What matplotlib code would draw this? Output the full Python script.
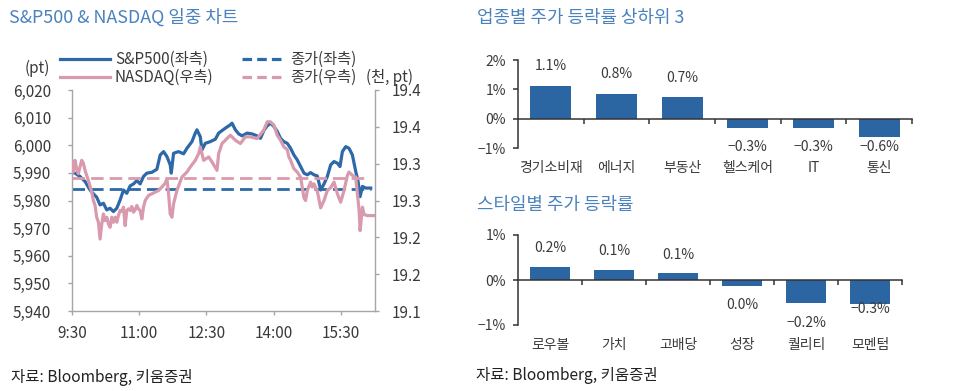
import matplotlib
matplotlib.use('Agg')
import matplotlib.pyplot as plt
from matplotlib.lines import Line2D

plt.rcParams['font.family'] = ['Noto Sans CJK KR', 'DejaVu Sans']

# ---------------- data ----------------
# minutes after 9:30
sp_time = [0, 4, 10.7, 17.5, 24.2, 28.7, 33.1, 37.6, 42.1, 46.6, 51, 55.5, 60, 64.5, 69, 73.4,
           77.9, 82.4, 86.9, 91.3, 95.8, 100.3, 107, 113.7, 118.2, 122.7, 127.2, 131.6, 133,
           136.1, 142.8, 149.5, 154, 160.7, 165.2, 167.4, 171.9, 174.1, 178.6, 185.3, 192.1,
           196.5, 201, 205.5, 212.2, 214.4, 218.9, 223.4, 227.9, 234.6, 241.3, 248, 252.5, 257,
           261.5, 266, 270.5, 275, 279.4, 283.9, 288.4, 292.9, 297.3, 301.8, 306.3, 310.8,
           315.3, 319.7, 324.2, 328.7, 333.2, 337.7, 342.1, 346.6, 351.1, 355.6, 359.1, 362.3,
           366.8, 371.2, 375.7, 380.2, 383.3, 386, 389.2, 393.6, 400.3]
sp_value = [5990.2, 5989.9, 5988.7, 5986.9, 5983.8, 5982.4, 5981.2, 5978.4, 5979.0, 5976.6,
            5977.2, 5976.0, 5977.2, 5980.2, 5983.8, 5982.6, 5985.3, 5986.0, 5987.2, 5986.0,
            5988.7, 5989.9, 5990.2, 5991.3, 5996.5, 5997.7, 5995.9, 5992.9, 5989.9, 5997.1,
            5997.7, 5996.9, 5998.9, 6001.3, 6004.4, 6005.6, 6003.1, 5998.3, 6000.7, 6001.3,
            6002.2, 6004.4, 6005.3, 6006.2, 6007.4, 6008.0, 6005.6, 6004.1, 6003.4, 6004.4,
            6004.1, 6003.4, 6002.5, 6005.3, 6007.0, 6008.0, 6006.8, 6005.0, 6002.5, 6001.3,
            6000.7, 5998.9, 5996.5, 5994.7, 5992.3, 5989.9, 5989.3, 5990.1, 5989.3, 5988.9,
            5983.8, 5986.0, 5988.7, 5992.9, 5994.1, 5993.5, 5992.3, 5997.7, 5999.5, 5998.9,
            5996.5, 5990.5, 5986.9, 5981.4, 5985.1, 5984.5, 5984.5]

nq_time = [0, 1.8, 4, 6.3, 8.5, 10.7, 13, 15.2, 17.5, 19.7, 21.9, 24.2, 26.4, 28.7, 30.9, 33.1,
           35.4, 37.6, 39.9, 42.1, 44.3, 46.6, 48.8, 51, 53.3, 55.5, 57.8, 60, 62.2, 64.5, 66.7,
           69, 71.2, 73.4, 75.7, 77.9, 80.1, 82.4, 84.6, 86.9, 89.1, 91.3, 93.6, 95.8, 98.1,
           102.5, 107, 111.5, 116, 120.4, 124.9, 127.2, 129.4, 131.6, 133.9, 136.1, 140.6,
           147.3, 154, 158.5, 165.2, 169.7, 171.9, 176.4, 183.1, 187.6, 194.3, 196.5, 201,
           207.7, 212.2, 218.9, 225.6, 232.4, 239.1, 248, 257, 261.5, 266, 270.5, 275, 279.4,
           283.9, 288.4, 290.6, 292.9, 297.3, 301.8, 306.3, 308.5, 310.8, 313, 315.3, 319.7,
           322, 324.2, 328.7, 333.2, 337.7, 342.1, 346.6, 351.1, 355.6, 360, 364.5, 369, 371.2,
           375.7, 380.2, 382.4, 384.7, 386, 389.2, 391.4, 395.9, 407]
nq_value = [19302.3, 19288.6, 19304.5, 19293.2, 19286.4, 19295.5, 19304.5, 19300.9, 19290.9,
            19284.1, 19277.3, 19269.1, 19261.4, 19250.0, 19243.2, 19227.3, 19220.5, 19197.7,
            19218.2, 19231.8, 19222.7, 19227.3, 19218.2, 19213.6, 19227.3, 19220.5, 19227.3,
            19220.5, 19229.5, 19236.4, 19235.5, 19240.9, 19215.9, 19236.4, 19238.6, 19236.4,
            19241.8, 19234.1, 19237.3, 19243.2, 19238.6, 19236.4, 19225.0, 19240.9, 19250.0,
            19256.8, 19259.1, 19261.4, 19263.6, 19268.2, 19273.6, 19279.5, 19259.1, 19231.8,
            19227.3, 19245.5, 19263.6, 19281.8, 19288.6, 19295.5, 19304.5, 19313.6, 19322.7,
            19304.5, 19309.1, 19302.3, 19290.9, 19313.6, 19327.3, 19334.1, 19338.6, 19331.8,
            19327.3, 19336.4, 19336.4, 19334.1, 19345.5, 19356.8, 19356.8, 19352.3, 19338.6,
            19331.8, 19322.7, 19319.1, 19309.1, 19304.5, 19293.2, 19288.6, 19281.8, 19268.2,
            19253.6, 19250.0, 19263.6, 19275.0, 19268.2, 19272.7, 19262.7, 19240.0, 19250.0,
            19263.6, 19267.3, 19275.0, 19259.1, 19247.7, 19263.6, 19284.1, 19288.6, 19284.1,
            19281.8, 19259.1, 19236.4, 19209.1, 19240.9, 19230.9, 19229.5, 19229.5]

sp_prev_close = 5984.2
nq_prev_close = 19280.5

time_ticks = [0, 90, 180, 270, 360]
time_labels = ['9:30', '11:00', '12:30', '14:00', '15:30']
left_ticks = [5940, 5950, 5960, 5970, 5980, 5990, 6000, 6010, 6020]
right_ticks = [19.10, 19.15, 19.20, 19.25, 19.30, 19.35, 19.40]
right_tick_labels = ['19.1', '19.2', '19.2', '19.3', '19.3', '19.4', '19.4']

sector_names = ['경기소비재', '에너지', '부동산', '헬스케어', 'IT', '통신']
sector_values = [1.13, 0.83, 0.73, -0.33, -0.33, -0.63]
sector_labels = ['1.1%', '0.8%', '0.7%', '\u22120.3%', '\u22120.3%', '\u22120.6%']

style_names = ['로우볼', '가치', '고배당', '성장', '퀄리티', '모멘텀']
style_values = [0.30, 0.22, 0.15, -0.13, -0.50, -0.53]
style_labels = ['0.2%', '0.1%', '0.1%', '0.0%', '\u22120.2%', '\u22120.3%']

# ---------------- style ----------------
BLUE = '#2d69a8'
PINK = '#d99aae'
BAR = '#2b66a3'
TITLE = '#4a82bd'
TXT = '#3a3a3a'
GRAY = '#a6a6a6'
W, H = 960, 391
FS = 11
TFS = 12.9

fig = plt.figure(figsize=(9.6, 3.91), dpi=100)

def fx(px):
    return px / W

def fy(py):
    return 1 - py / H

# ---------------- left: line chart ----------------
ax = fig.add_axes([fx(72), fy(311), fx(375) - fx(72), fy(90) - fy(311)])
ax2 = ax.twinx()

ax.hlines(sp_prev_close, 0, 400, colors=BLUE, linestyles=(0, (4.5, 2.2)), lw=2.0)
ax.plot(sp_time, sp_value, color=BLUE, lw=2.3, solid_joinstyle='round')
ax2.hlines(nq_prev_close / 1000, 0, 398, colors=PINK, linestyles=(0, (4.5, 2.2)), lw=2.0)
ax2.plot(nq_time, [v / 1000 for v in nq_value], color=PINK, lw=2.3, solid_joinstyle='round')

ax.set_xlim(0, 406)
ax.set_ylim(5940, 6020)
ax2.set_ylim(19.1, 19.4)
ax.set_xticks(time_ticks)
ax.set_xticklabels(time_labels)
ax.set_yticks(left_ticks)
ax.set_yticklabels([f'{v:,}' for v in left_ticks])
ax2.set_yticks(right_ticks)
ax2.set_yticklabels(right_tick_labels)

for a in (ax, ax2):
    for s in a.spines.values():
        s.set_color(GRAY)
        s.set_linewidth(1.0)
    a.spines['top'].set_visible(False)
ax.spines['right'].set_visible(False)
ax2.spines['left'].set_visible(False)
ax2.spines['bottom'].set_visible(False)
ax.tick_params(axis='y', direction='out', length=3, width=1, color=GRAY, pad=12,
               labelsize=FS, labelcolor=TXT)
ax.tick_params(axis='x', direction='out', length=3, width=1, color=GRAY, pad=7,
               labelsize=FS, labelcolor=TXT)
ax2.tick_params(axis='y', direction='out', length=3, width=1, color=GRAY, pad=9,
                labelsize=FS, labelcolor=TXT)

fig.text(fx(9), fy(18), 'S&P500 & NASDAQ 일중 차트', color=TITLE, fontsize=TFS,
         ha='left', va='center')
fig.text(fx(37), fy(68), '(pt)', color=TXT, fontsize=FS, ha='center', va='center')
fig.text(fx(366), fy(77), '(천, pt)', color=TXT, fontsize=FS, ha='left', va='center')

# legend (manual)
leg_items = [
    (60, 110, 59, BLUE, '-', 'S&P500(좌측)'),
    (60, 110, 77, PINK, '-', 'NASDAQ(우측)'),
    (242, 285, 59, BLUE, '--', '종가(좌측)'),
    (242, 285, 77, PINK, '--', '종가(우측)'),
]
for x0, x1, yy, col, ls, lab in leg_items:
    ln = Line2D([fx(x0), fx(x1)], [fy(yy), fy(yy)], transform=fig.transFigure,
                color=col, lw=2.3)
    if ls == '--':
        ln.set_dashes((3.0, 1.6))
    fig.add_artist(ln)
    fig.text(fx(x1 + 5), fy(yy), lab, color=TXT, fontsize=FS, ha='left', va='center')

fig.text(fx(11), fy(377), '자료: Bloomberg, 키움증권', color='#222222', fontsize=11.2,
         ha='left', va='center')
fig.text(fx(476), fy(376), '자료: Bloomberg, 키움증권', color='#222222', fontsize=11.2,
         ha='left', va='center')

# ---------------- right: bar charts ----------------
def bar_chart(rect, names, values, labels, offsets, ylim, yticks, width, title, title_y):
    b = fig.add_axes(rect)
    x = list(range(len(names)))
    b.bar(x, values, width=width, color=BAR, zorder=2)
    b.set_xlim(-0.5, len(names) - 0.5)
    b.set_ylim(*ylim)
    b.set_yticks(yticks)
    b.set_yticklabels([(f'{t}%' if t >= 0 else f'\u2212{-t}%') for t in yticks])
    b.spines['top'].set_visible(False)
    b.spines['right'].set_visible(False)
    b.spines['bottom'].set_position(('data', 0))
    for s in ('left', 'bottom'):
        b.spines[s].set_color('#333333')
        b.spines[s].set_linewidth(1.1)
    b.set_xticks([])
    b.set_xticks([i + 0.5 for i in x], minor=True)
    b.tick_params(axis='x', which='minor', direction='out', length=3.5, width=1.1,
                  color='#333333')
    b.tick_params(axis='y', direction='out', length=3.5, width=1.1, color='#333333',
                  pad=5, labelsize=10, labelcolor=TXT)
    for i, (v, lab, off) in enumerate(zip(values, labels, offsets)):
        sgn = 1 if v >= 0 else -1
        b.annotate(lab, (i, v), xytext=(0, sgn * off), textcoords='offset points',
                   ha='center', va='center', fontsize=10, color=TXT)
        b.annotate(names[i], (i, 0), xycoords=('data', 'axes fraction'),
                   xytext=(0, -14.5), textcoords='offset points',
                   ha='center', va='center', fontsize=10, color=TXT)
    fig.text(fx(477), fy(title_y), title, color=TITLE, fontsize=TFS, ha='left', va='center')
    return b

bar_chart([fx(518), fy(148), fx(912) - fx(518), fy(60) - fy(148)],
          sector_names, sector_values, sector_labels,
          [13.7, 14.4, 13.7, 13.7, 13.7, 7.2], (-1, 2), [-1, 0, 1, 2], 0.62,
          '업종별 주가 등락률 상하위 3', 18)
bar_chart([fx(518), fy(325), fx(902) - fx(518), fy(235) - fy(325)],
          style_names, style_values, style_labels,
          [13.0, 13.7, 13.0, 13.7, 15.0, 3.4], (-1, 1), [-1, 0, 1], 0.61,
          '스타일별 주가 등락률', 205)

fig.savefig('out.png', dpi=100)
